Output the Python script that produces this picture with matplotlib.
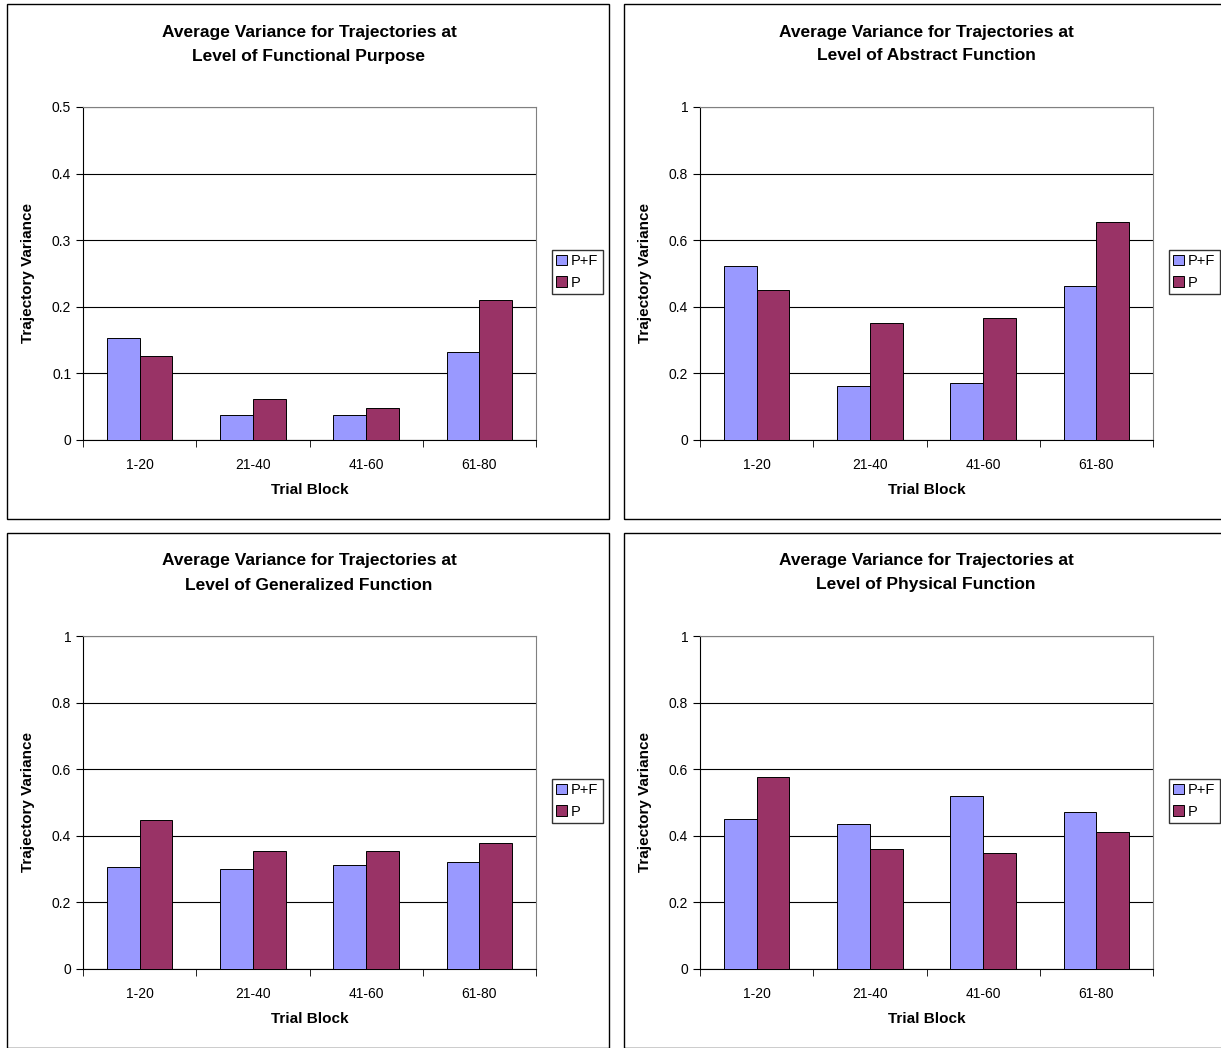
import matplotlib.pyplot as plt
from matplotlib.patches import Rectangle, Patch

plt.rcParams['font.family'] = ['Liberation Sans', 'DejaVu Sans']

W, H = 1221, 1048
blocks = ["1-20", "21-40", "41-60", "61-80"]
titles = ["Average Variance for Trajectories at\nLevel of Functional Purpose",
          "Average Variance for Trajectories at\nLevel of Abstract Function",
          "Average Variance for Trajectories at\nLevel of Generalized Function",
          "Average Variance for Trajectories at\nLevel of Physical Function"]
pf_vals = [[0.153, 0.0375, 0.0375, 0.132],
           [0.523, 0.162, 0.171, 0.462],
           [0.306, 0.300, 0.312, 0.321],
           [0.450, 0.435, 0.520, 0.471]]
p_vals = [[0.126, 0.062, 0.048, 0.210],
          [0.450, 0.351, 0.366, 0.655],
          [0.447, 0.354, 0.354, 0.378],
          [0.576, 0.360, 0.348, 0.411]]
ymaxes = [0.5, 1, 1, 1]
yticks = [[0, 0.1, 0.2, 0.3, 0.4, 0.5], [0, 0.2, 0.4, 0.6, 0.8, 1],
          [0, 0.2, 0.4, 0.6, 0.8, 1], [0, 0.2, 0.4, 0.6, 0.8, 1]]
ylabels = [["0", "0.1", "0.2", "0.3", "0.4", "0.5"]] + [["0", "0.2", "0.4", "0.6", "0.8", "1"]] * 3

c_pf, c_p = "#9999FF", "#993366"
fig = plt.figure(figsize=(W / 100, H / 100), dpi=100)

def fx(x): return x / W
def fy(y): return 1 - y / H

panels = [(7, 4), (624, 4), (7, 533), (624, 533)]
for i, (px, py) in enumerate(panels):
    fig.patches.append(Rectangle((fx(px), fy(py + 515)), 602 / W, 515 / H,
                                 transform=fig.transFigure, fill=False,
                                 edgecolor="black", lw=1))
    ax = fig.add_axes([fx(px + 76), fy(py + 436), 453 / W, 333 / H])
    x = range(4)
    ax.bar([k - 0.145 for k in x], pf_vals[i], 0.29, color=c_pf, edgecolor="black", lw=0.7, zorder=3, label="P+F")
    ax.bar([k + 0.145 for k in x], p_vals[i], 0.29, color=c_p, edgecolor="black", lw=0.7, zorder=3, label="P")
    ax.set_xlim(-0.5, 3.5)
    ax.set_ylim(0, ymaxes[i])
    ax.set_yticks(yticks[i])
    ax.set_yticklabels(ylabels[i], fontsize=10)
    ax.set_xticks(list(x))
    ax.set_xticklabels(blocks, fontsize=10)
    ax.set_xticks([-0.5, 0.5, 1.5, 2.5, 3.5], minor=True)
    ax.tick_params(axis="x", which="major", length=0, pad=13)
    ax.tick_params(axis="x", which="minor", length=5, direction="out")
    ax.tick_params(axis="y", length=5, direction="out")
    ax.grid(axis="y", color="black", lw=0.8, zorder=0)
    for s in ["top", "right"]:
        ax.spines[s].set_color("#808080")
    ax.set_xlabel("Trial Block", fontsize=11, fontweight="bold", labelpad=8)
    ax.set_ylabel("Trajectory Variance", fontsize=11, fontweight="bold", labelpad=12)
    fig.text(fx(px + 302), fy(py + 40), titles[i], ha="center", va="center",
             fontsize=12.5, fontweight="bold", linespacing=1.75)
    fig.legend(handles=[Patch(facecolor=c_pf, edgecolor="black", lw=0.7, label="P+F"),
                        Patch(facecolor=c_p, edgecolor="black", lw=0.7, label="P")],
               loc="upper left", bbox_to_anchor=(fx(px + 545), fy(py + 246)),
               fontsize=10.5, frameon=True, fancybox=False, edgecolor="black",
               handlelength=0.7, handleheight=0.7, handletextpad=0.3,
               borderpad=0.3, labelspacing=0.5, borderaxespad=0)

fig.savefig("out.png", dpi=100, facecolor="white")
